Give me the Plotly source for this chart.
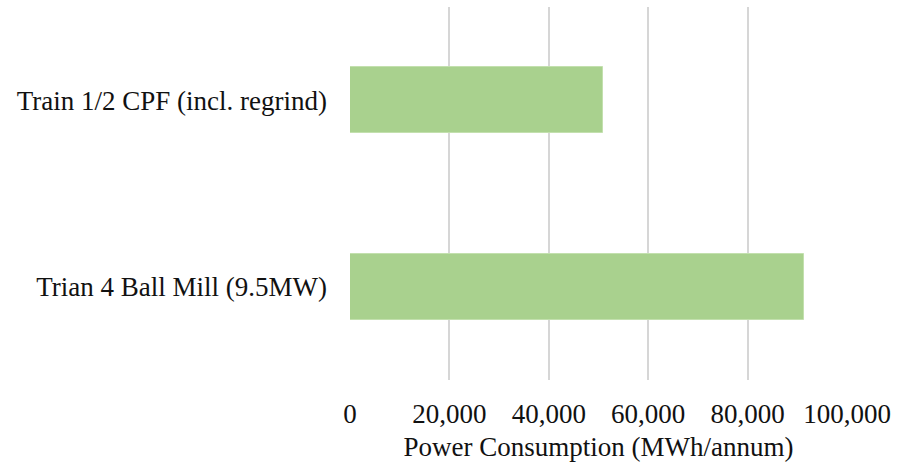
import plotly.graph_objects as go

# Annual power draw by circuit
circuits = ["Train 1/2 CPF (incl. regrind)", "Trian 4 Ball Mill (9.5MW)"]
power_mwh = [50900, 91400]
x_ticks = [0, 20000, 40000, 60000, 80000, 100000]
x_tick_labels = ["0", "20,000", "40,000", "60,000", "80,000", "100,000"]

font_family = "Liberation Serif, Times New Roman, serif"
font_size = 27

fig = go.Figure(
    go.Bar(
        x=power_mwh,
        y=circuits,
        orientation="h",
        width=0.355,
        marker=dict(color="#a9d18e", line=dict(color="#c3e0ae", width=1)),
    )
)

fig.update_layout(
    width=897,
    height=462,
    margin=dict(l=350, r=50, t=7, b=82),
    paper_bgcolor="white",
    plot_bgcolor="white",
    showlegend=False,
    font=dict(family=font_family, size=font_size, color="#111111"),
    bargap=0,
)

fig.update_xaxes(
    range=[0, 100000],
    tickvals=x_ticks,
    ticktext=x_tick_labels,
    showgrid=True,
    gridcolor="#d6d6d6",
    gridwidth=2,
    zeroline=False,
    showline=False,
    ticks="outside",
    ticklen=10,
    tickcolor="rgba(0,0,0,0)",
    automargin=False,
    title=dict(text="Power Consumption (MWh/annum)", standoff=10,
               font=dict(family=font_family, size=font_size)),
    tickfont=dict(family=font_family, size=font_size),
)

fig.update_yaxes(
    categoryorder="array",
    categoryarray=circuits,
    autorange="reversed",
    showgrid=False,
    zeroline=False,
    showline=False,
    ticks="",
    automargin=False,
    ticklabelstandoff=22,
    tickfont=dict(family=font_family, size=font_size),
)

fig.write_html("out.html")
